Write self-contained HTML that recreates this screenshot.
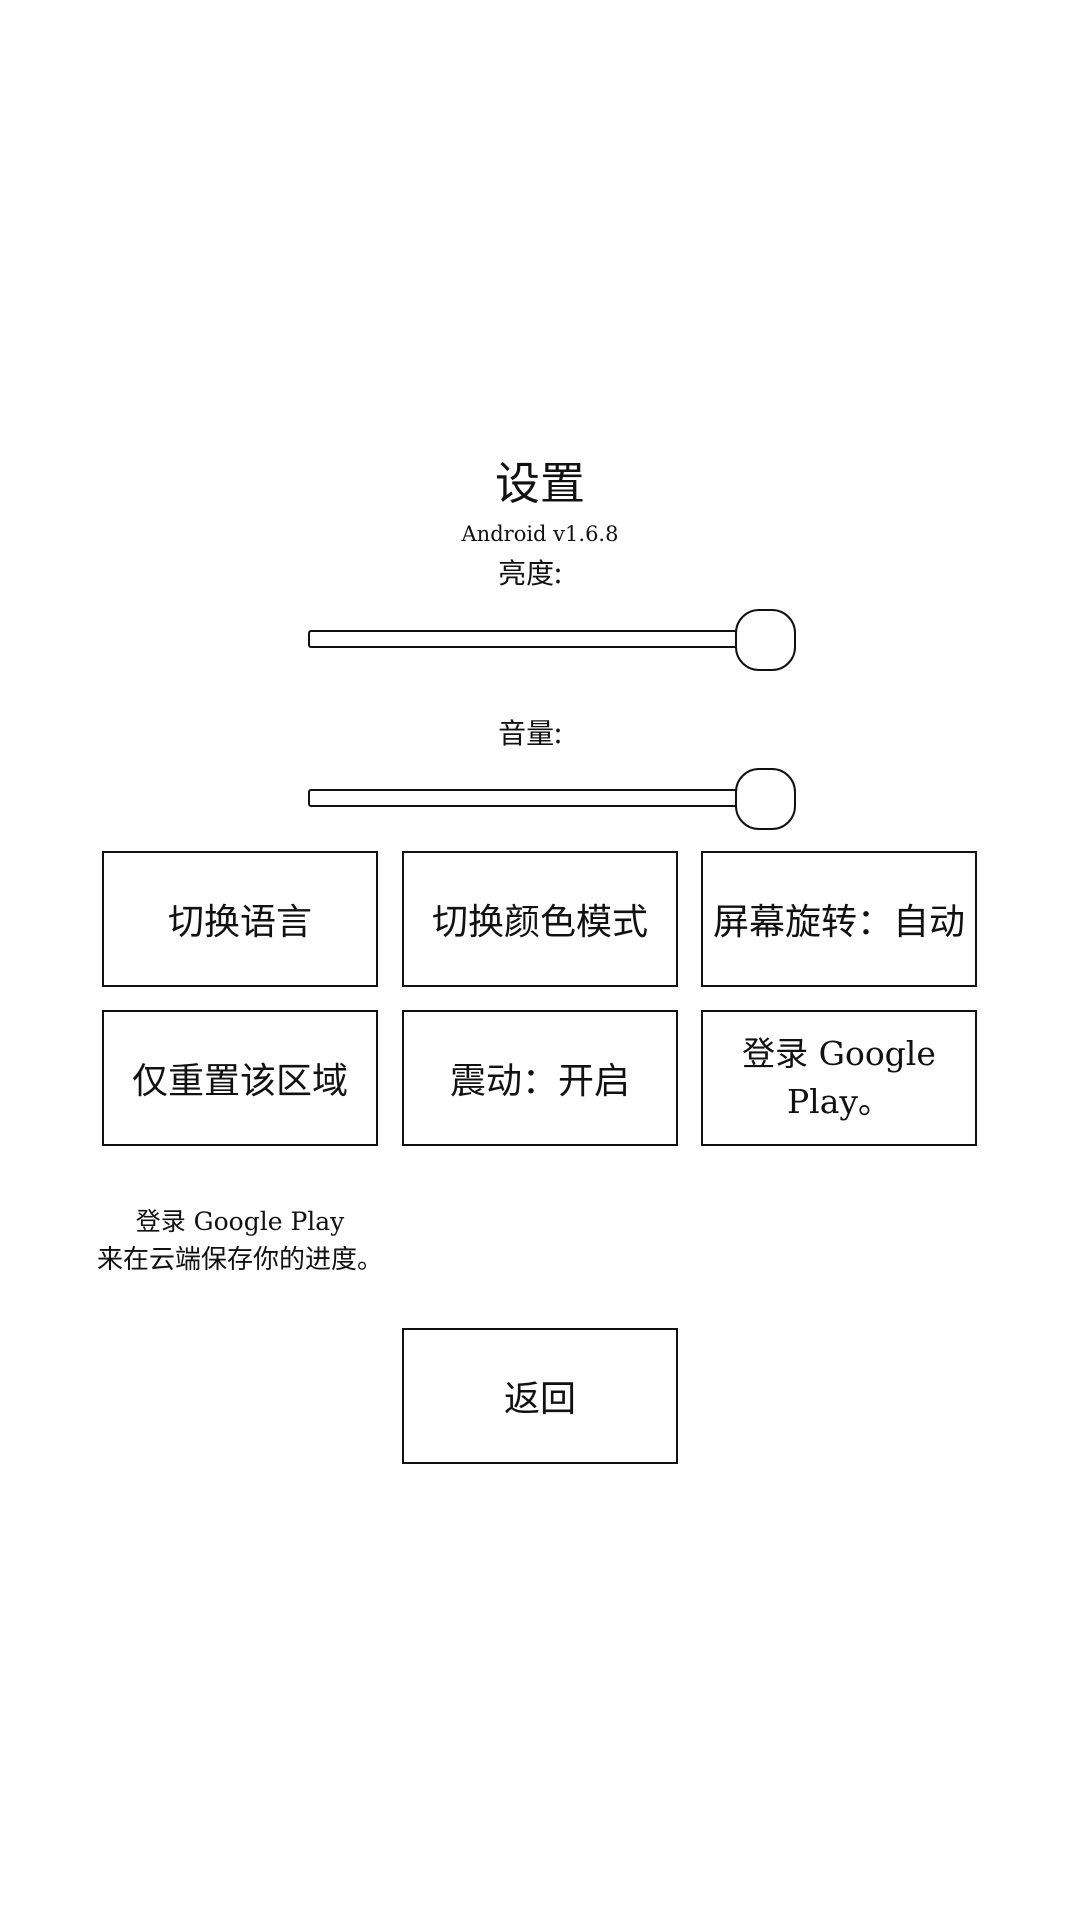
<!DOCTYPE html>
<html><head><meta charset="utf-8"><style>
html,body{margin:0;padding:0;background:#fff;width:1080px;height:1920px;overflow:hidden;position:relative;font-family:"DejaVu Serif","Noto Sans CJK SC",serif;color:#111}
.t{position:absolute;left:0;width:1080px;text-align:center;white-space:nowrap}
.cjk{font-family:"Noto Sans CJK SC","WenQuanYi Zen Hei",sans-serif}
.track{position:absolute;left:308px;width:432px;height:18px;border:2.5px solid #111;border-radius:3px;box-sizing:border-box;background:#fff}
.knob{position:absolute;left:735px;width:61px;height:62px;border:2.5px solid #111;border-radius:24px;box-sizing:border-box;background:#fff}
.b{position:absolute;width:276px;height:136px;border:2.5px solid #111;box-sizing:border-box;display:flex;align-items:center;justify-content:center;text-align:center;font-size:36px;line-height:48px}
</style></head><body>
<div class="t cjk" style="top:452px;font-size:45px;line-height:56px">设置</div>
<div class="t" style="top:520px;font-size:21px;line-height:28px">Android v1.6.8</div>
<div class="t cjk" style="top:555px;font-size:28px;line-height:34px;left:-10px">亮度:</div>
<div class="track" style="top:630px"></div>
<div class="knob" style="top:609px"></div>
<div class="t cjk" style="top:715px;font-size:28px;line-height:34px;left:-10px">音量:</div>
<div class="track" style="top:789px"></div>
<div class="knob" style="top:768px"></div>

<div class="b cjk" style="left:102px;top:851px">切换语言</div>
<div class="b cjk" style="left:402px;top:851px">切换颜色模式</div>
<div class="b cjk" style="left:701px;top:851px">屏幕旋转：自动</div>
<div class="b cjk" style="left:102px;top:1010px">仅重置该区域</div>
<div class="b cjk" style="left:402px;top:1010px">震动：开启</div>
<div class="b" style="left:701px;top:1010px;font-size:33px"><span>登录 Google<br>Play。</span></div>

<div class="t" style="left:90px;width:300px;top:1204px;font-size:25px;line-height:36px;white-space:normal">登录 Google Play<br><span class="cjk" style="font-size:26px">来在云端保存你的进度。</span></div>

<div class="b cjk" style="left:402px;top:1328px">返回</div>
</body></html>
